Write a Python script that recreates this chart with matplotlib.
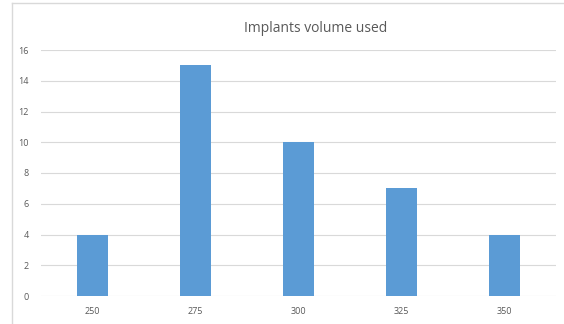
import matplotlib
matplotlib.use("Agg")
import matplotlib.pyplot as plt
from matplotlib.lines import Line2D

categories = ["250", "275", "300", "325", "350"]
values = [4, 15, 10, 7, 4]
yticks = [0, 2, 4, 6, 8, 10, 12, 14, 16]
title = "Implants volume used"

W, H = 564, 324
fig = plt.figure(figsize=(W / 100, H / 100), dpi=100)
fig.patch.set_facecolor("white")

ax = fig.add_axes([41 / W, (H - 296) / H, (556 - 41) / W, (296 - 50) / H])
x = list(range(len(categories)))
ax.bar(x, values, width=0.31, color="#5B9BD5", zorder=3)
ax.set_xlim(-0.5, len(categories) - 0.5)
ax.set_ylim(0, 16)
ax.set_yticks(yticks)
ax.set_xticks(x)
ax.set_xticklabels(categories)
ax.grid(axis="y", color="#D9D9D9", linewidth=0.8, zorder=0)
for s in ax.spines.values():
    s.set_visible(False)
ax.tick_params(axis="both", length=0, labelsize=6.5, labelcolor="#595959",
               labelfontfamily="Open Sans")
ax.tick_params(axis="x", pad=8)
ax.tick_params(axis="y", pad=9)

fig.text(316 / W, 1 - 29 / H, title, ha="center", va="center", fontsize=10,
         color="#595959", family="Open Sans")

fig.add_artist(Line2D([12 / W, 12 / W], [0, 1 - 3 / H], transform=fig.transFigure,
                      color="#D9D9D9", linewidth=1))
fig.add_artist(Line2D([12 / W, 1], [1 - 3 / H, 1 - 3 / H], transform=fig.transFigure,
                      color="#D9D9D9", linewidth=1))

fig.savefig("out.png", dpi=100)
